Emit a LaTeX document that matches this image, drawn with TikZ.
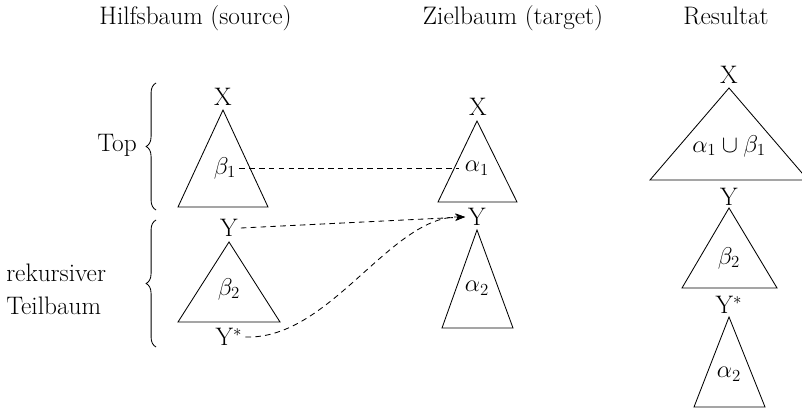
\documentclass[tikz,border=0pt]{standalone}
\usetikzlibrary{decorations.pathreplacing,arrows.meta}
\begin{document}
\begin{tikzpicture}[x=0.025cm,y=-0.025cm,
  every node/.style={font=\fontsize{18}{23.5}\selectfont},
  lbl/.style={inner sep=2pt},
  tri/.style={draw=black,line width=0.6pt,line join=miter},
  link/.style={draw=black,line width=0.6pt,dash pattern=on 4pt off 3pt},
  arr/.style={link,-{Stealth[length=7pt,width=5pt]}},
  grp/.style={draw=black,line width=0.6pt,decorate,decoration={brace,amplitude=7pt}}]
\useasboundingbox (0,0) rectangle (802,419);
% titles
\node[anchor=base] (tsrc) at (195.5,25) {Hilfsbaum (source)};
\node[anchor=base] (ttgt) at (513,25) {Zielbaum (target)};
\node[anchor=base] (tres) at (726,25) {Resultat};
% group labels and braces
\node[anchor=base] (top) at (117,152) {Top};
\node[anchor=west,align=left,inner sep=0pt] (rek) at (6,289) {rekursiver\\Teilbaum};
\draw[grp] (156,210) -- (156,83);
\draw[grp] (156,347) -- (156,220);
% source tree
\draw[tri] (223,110) -- (178,207) -- (268,207) -- cycle;
\node[lbl] (sX) at (223,97) {X};
\node[lbl] (b1) at (225,168) {$\beta_1$};
\draw[tri] (229,242) -- (178,322) -- (280,322) -- cycle;
\node[lbl] (sY) at (229,228) {Y};
\node[lbl] (b2) at (229,289) {$\beta_2$};
\node[lbl] (sYs) at (229,337) {Y$^*$};
% target tree
\draw[tri] (477,121) -- (438,202) -- (517,202) -- cycle;
\node[lbl] (tX) at (478,107) {X};
\node[lbl,inner sep=4pt] (a1) at (477,168) {$\alpha_1$};
\node[lbl] (tY) at (477,217) {Y};
\draw[tri] (477,230) -- (442,328) -- (513,328) -- cycle;
\node[lbl] (a2) at (477,288) {$\alpha_2$};
% result tree
\draw[tri] (729,88) -- (650,180) -- (808,180) -- cycle;
\node[lbl] (rX) at (729,75) {X};
\node[lbl] (ab) at (729,146) {$\alpha_1\cup\beta_1$};
\node[lbl] (rY) at (729,197) {Y};
\draw[tri] (729,208) -- (682,288) -- (777,288) -- cycle;
\node[lbl] (rb2) at (729,258) {$\beta_2$};
\node[lbl] (rYs) at (729,305) {Y$^*$};
\draw[tri] (729,317) -- (694,407) -- (765,407) -- cycle;
\node[lbl] (ra2) at (729,374) {$\alpha_2$};
% connectors
\draw[link] (b1.east) -- (a1.west);
\draw[arr] (sY.east) -- (tY.west);
\draw[arr] (sYs.east) .. controls (330,340) and (390,216) .. (tY.west);
\end{tikzpicture}
\end{document}
